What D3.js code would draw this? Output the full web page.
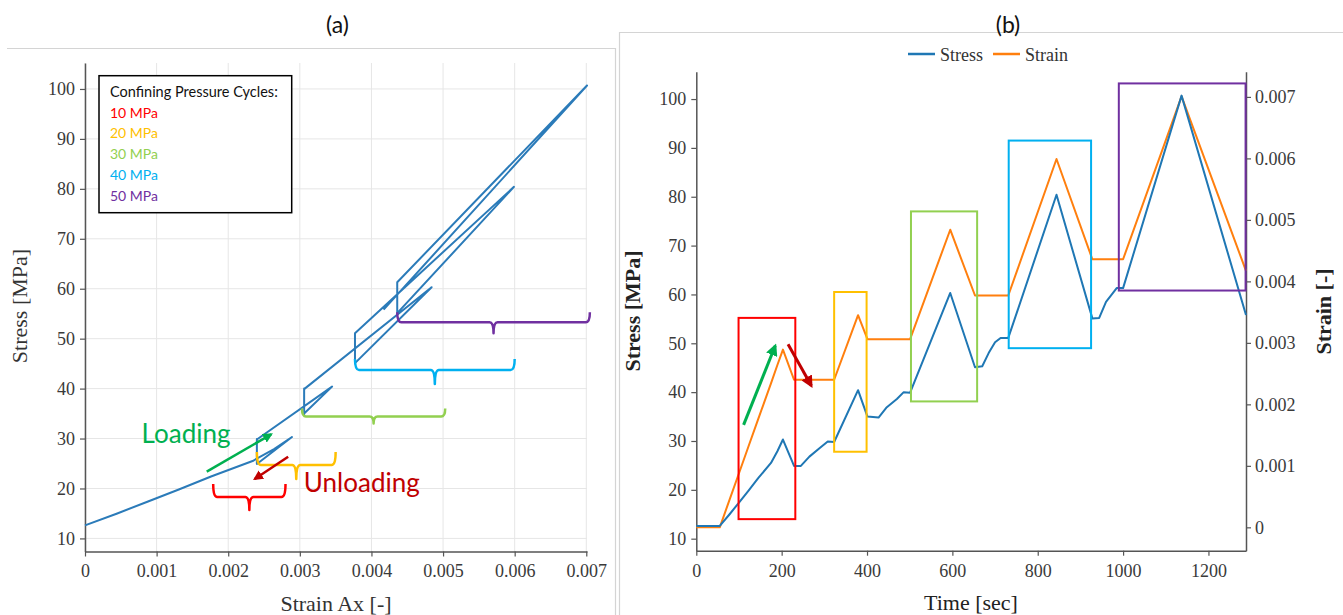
<!DOCTYPE html>
<html>
<head>
<meta charset="utf-8">
<script src="https://cdn.jsdelivr.net/npm/d3@7"></script>
<style>
  body { margin: 0; background: #fff; }
  svg { display: block; }
  .tick text { font-family: "Liberation Serif", "Times New Roman", serif; }
</style>
</head>
<body>
<svg id="fig" width="1343" height="615"></svg>
<script>
// Triaxial test record, one sample per time stamp
const timeSec   = [0, 55, 78, 100, 122, 145, 175, 190, 203, 229, 245, 265, 290, 308, 323, 379, 401, 427, 445, 470, 486, 501, 595, 653, 670, 685, 700, 713, 731, 844, 928, 944, 960, 985, 1000, 1137, 1288];
const stressMPa = [12.6, 12.6, 15.0, 17.4, 19.8, 22.4, 25.5, 27.9, 30.3, 24.9, 24.9, 26.8, 28.6, 29.9, 29.8, 40.4, 35.0, 34.8, 36.8, 38.6, 40.0, 39.9, 60.3, 45.1, 45.3, 48.0, 50.2, 51.1, 51.1, 80.4, 55.1, 55.2, 58.5, 61.3, 61.3, 100.7, 55.8];
const strainAx  = [0, 0, 0.00045, 0.00088, 0.00131, 0.00176, 0.00234, 0.00264, 0.00289, 0.0024, 0.0024, 0.0024, 0.0024, 0.0024, 0.0024, 0.00345, 0.00306, 0.00306, 0.00306, 0.00306, 0.00306, 0.00306, 0.00484, 0.00377, 0.00377, 0.00377, 0.00377, 0.00377, 0.00377, 0.00599, 0.00436, 0.00436, 0.00436, 0.00436, 0.00436, 0.00701, 0.00417];

// Confining pressure cycles
const cycleLabels = ["10 MPa", "20 MPa", "30 MPa", "40 MPa", "50 MPa"];
const cycleColors = ["#ff0000", "#ffc000", "#92d050", "#00b0f0", "#7030a0"];

// Strain range and stress level spanned by each cycle's brace (panel a)
const braceStrainFrom = [0.00179, 0.0024, 0.00303, 0.00377, 0.00436];
const braceStrainTo   = [0.0028, 0.0035, 0.00503, 0.0060, 0.00705];
const braceStress     = [18.3, 24.7, 34.4, 43.7, 53.3];

// Time window and stress window of each cycle (panel b)
const boxTimeFrom   = [99, 323, 503, 732, 990];
const boxTimeTo     = [232, 399, 658, 925, 1287];
const boxStressLow  = [14.0, 27.8, 38.1, 49.0, 60.8];
const boxStressHigh = [55.2, 60.5, 77.0, 91.5, 103.2];

// Tick values
const strainTicks = [0, 0.001, 0.002, 0.003, 0.004, 0.005, 0.006, 0.007];
const stressTicks = [10, 20, 30, 40, 50, 60, 70, 80, 90, 100];
const timeTicks   = [0, 200, 400, 600, 800, 1000, 1200];

const svg = d3.select("#fig");
const serif = "Liberation Serif, Times New Roman, serif";
const sans = "Lato, Open Sans, sans-serif";
const blue = "#1f77b4", orange = "#ff7f0e";
const loadGreen = "#00b050", unloadRed = "#c00000";
const fmtStrain = d => d === 0 ? "0" : d3.format(".3f")(d);

const rows = timeSec.map((t, i) => ({ t, s: stressMPa[i], e: strainAx[i] }));

// arrow heads
const defs = svg.append("defs");
[["headGreen", loadGreen], ["headRed", unloadRed]].forEach(([id, c]) => {
  defs.append("marker").attr("id", id)
    .attr("viewBox", "0 0 10 10").attr("refX", 8).attr("refY", 5)
    .attr("markerWidth", 4).attr("markerHeight", 4)
    .attr("markerUnits", "strokeWidth").attr("orient", "auto")
    .append("path").attr("d", "M0,0 L10,5 L0,10 z").attr("fill", c);
});

// panel frames
svg.append("path").attr("d", "M7,48.5 H615.5 V615").attr("fill", "none").attr("stroke", "#d4d4d4").attr("stroke-width", 1.2);
svg.append("path").attr("d", "M619.5,615 V32.5 H1343").attr("fill", "none").attr("stroke", "#d4d4d4").attr("stroke-width", 1.2);

// panel titles
svg.append("text").attr("x", 337.5).attr("y", 33).attr("text-anchor", "middle")
  .attr("font-family", sans).attr("font-size", 23).attr("fill", "#111").text("(a)");
svg.append("text").attr("x", 1008).attr("y", 33).attr("text-anchor", "middle")
  .attr("font-family", sans).attr("font-size", 23).attr("fill", "#111").text("(b)");

function styleAxis(g, size) {
  g.attr("font-family", serif).attr("font-size", size);
  g.selectAll(".domain").attr("stroke", "#555").attr("stroke-width", 1.5);
  g.selectAll(".tick line").attr("stroke", "#555").attr("stroke-width", 1.2);
  g.selectAll(".tick text").attr("fill", "#3a3a3a")
    .style("font-family", serif).style("font-size", size + "px");
}

// ---------- Panel (a): stress against axial strain ----------
const xa = d3.scaleLinear().domain([0, 0.00701]).range([85, 587]);
const ya = d3.scaleLinear().domain([7.38, 105.2]).range([551.5, 63]);

const pa = svg.append("g");
pa.append("g").selectAll("line").data(strainTicks).join("line")
  .attr("x1", d => xa(d)).attr("x2", d => xa(d))
  .attr("y1", ya.range()[1]).attr("y2", ya.range()[0])
  .attr("stroke", "#e6e6e6").attr("stroke-width", 1);
pa.append("g").selectAll("line").data(stressTicks).join("line")
  .attr("x1", xa.range()[0]).attr("x2", xa.range()[1])
  .attr("y1", d => ya(d)).attr("y2", d => ya(d))
  .attr("stroke", "#e6e6e6").attr("stroke-width", 1);

const axA = pa.append("g").attr("transform", `translate(0,${ya.range()[0]})`)
  .call(d3.axisBottom(xa).tickValues(strainTicks).tickFormat(fmtStrain).tickSize(5).tickSizeOuter(0).tickPadding(8));
styleAxis(axA, 18);
const ayA = pa.append("g").attr("transform", `translate(${xa.range()[0]},0)`)
  .call(d3.axisLeft(ya).tickValues(stressTicks).tickFormat(d3.format("d")).tickSize(5).tickSizeOuter(0).tickPadding(5));
styleAxis(ayA, 18);

pa.append("text").attr("x", 336).attr("y", 611).attr("text-anchor", "middle")
  .attr("font-family", serif).attr("font-size", 22).attr("fill", "#333").text("Strain Ax [-]");
pa.append("text").attr("transform", "translate(27,306) rotate(-90)").attr("text-anchor", "middle")
  .attr("font-family", serif).attr("font-size", 22).attr("fill", "#333").text("Stress [MPa]");

pa.append("path").datum(rows)
  .attr("d", d3.line().x(d => xa(d.e)).y(d => ya(d.s)))
  .attr("fill", "none").attr("stroke", "#2b7bb9").attr("stroke-width", 2)
  .attr("stroke-linejoin", "round");

// cycle braces: end-hook height and centre-tip depth in pixels
const braceHookPx = [13, 13, 8, 11, 10];
const braceTipPx = [13, 14, 7, 14, 11];
cycleColors.forEach((c, i) => {
  const x0 = xa(braceStrainFrom[i]), x1 = xa(braceStrainTo[i]), y = ya(braceStress[i]);
  const xm = (x0 + x1) / 2, hook = braceHookPx[i], tip = braceTipPx[i];
  const p = d3.path();
  p.moveTo(x0, y - hook);
  p.quadraticCurveTo(x0, y, x0 + 4, y);
  p.lineTo(xm - 4, y);
  p.quadraticCurveTo(xm, y, xm, y + tip);
  p.quadraticCurveTo(xm, y, xm + 4, y);
  p.lineTo(x1 - 4, y);
  p.quadraticCurveTo(x1, y, x1, y - hook);
  pa.append("path").attr("d", p.toString()).attr("fill", "none")
    .attr("stroke", c).attr("stroke-width", 2.5).attr("stroke-linejoin", "round");
});

// loading / unloading annotations
pa.append("line")
  .attr("x1", xa(0.0017)).attr("y1", ya(23.36)).attr("x2", xa(0.0026)).attr("y2", ya(30.85))
  .attr("stroke", loadGreen).attr("stroke-width", 2.5).attr("marker-end", "url(#headGreen)");
pa.append("line")
  .attr("x1", xa(0.002837)).attr("y1", ya(26.36)).attr("x2", xa(0.00237)).attr("y2", ya(21.9))
  .attr("stroke", unloadRed).attr("stroke-width", 2.5).attr("marker-end", "url(#headRed)");
pa.append("text").attr("x", xa(0.00079)).attr("y", ya(29.1))
  .attr("font-family", sans).attr("font-size", 26).attr("fill", loadGreen).text("Loading");
pa.append("text").attr("x", xa(0.003056)).attr("y", ya(19.3))
  .attr("font-family", sans).attr("font-size", 26).attr("fill", unloadRed).text("Unloading");

// legend box
const lg = pa.append("g");
lg.append("rect").attr("x", 99).attr("y", 75.7).attr("width", 192.7).attr("height", 137)
  .attr("fill", "#fff").attr("stroke", "#000").attr("stroke-width", 1.5);
lg.append("text").attr("x", 110).attr("y", 97.3).attr("font-family", sans).attr("font-size", 14.5)
  .attr("fill", "#111").text("Confining Pressure Cycles:");
lg.selectAll("text.cyc").data(cycleLabels).join("text").attr("class", "cyc")
  .attr("x", 110).attr("y", (d, i) => 117.5 + i * 20.8)
  .attr("font-family", sans).attr("font-size", 14)
  .attr("fill", (d, i) => cycleColors[i]).text(d => d);

// ---------- Panel (b): stress and strain against time ----------
const xb = d3.scaleLinear().domain([0, 1288]).range([696.3, 1246]);
const yb = d3.scaleLinear().domain([7.54, 105.6]).range([550.7, 71.7]);
const yb2 = d3.scaleLinear().domain([-0.00038, 0.00741]).range([550.7, 71.7]);

const pb = svg.append("g");
const axB = pb.append("g").attr("transform", `translate(0,${yb.range()[0]})`)
  .call(d3.axisBottom(xb).tickValues(timeTicks).tickFormat(d3.format("d")).tickSize(5).tickSizeOuter(0).tickPadding(9));
styleAxis(axB, 18);
const ayB = pb.append("g").attr("transform", `translate(${xb.range()[0]},0)`)
  .call(d3.axisLeft(yb).tickValues(stressTicks).tickFormat(d3.format("d")).tickSize(5).tickSizeOuter(0).tickPadding(5));
styleAxis(ayB, 18);
const ayB2 = pb.append("g").attr("transform", `translate(${xb.range()[1]},0)`)
  .call(d3.axisRight(yb2).tickValues(strainTicks).tickFormat(fmtStrain).tickSize(5).tickSizeOuter(0).tickPadding(4));
styleAxis(ayB2, 18);

pb.append("text").attr("x", 971).attr("y", 610).attr("text-anchor", "middle")
  .attr("font-family", serif).attr("font-size", 22).attr("fill", "#222").text("Time [sec]");
pb.append("text").attr("transform", "translate(640,311) rotate(-90)").attr("text-anchor", "middle")
  .attr("font-family", serif).attr("font-size", 22).attr("font-weight", "bold").attr("fill", "#222").text("Stress [MPa]");
pb.append("text").attr("transform", "translate(1331,311.5) rotate(-90)").attr("text-anchor", "middle")
  .attr("font-family", serif).attr("font-size", 22).attr("font-weight", "bold").attr("fill", "#222").text("Strain [-]");

// legend
const lb = pb.append("g").attr("font-family", serif).attr("font-size", 18).attr("fill", "#333");
lb.append("line").attr("x1", 908).attr("x2", 935).attr("y1", 54).attr("y2", 54).attr("stroke", blue).attr("stroke-width", 2.5);
lb.append("text").attr("x", 940).attr("y", 60.5).text("Stress");
lb.append("line").attr("x1", 993).attr("x2", 1020).attr("y1", 54).attr("y2", 54).attr("stroke", orange).attr("stroke-width", 2.5);
lb.append("text").attr("x", 1025).attr("y", 60.5).text("Strain");

// series
pb.append("path").datum(rows)
  .attr("d", d3.line().x(d => xb(d.t)).y(d => yb2(d.e)))
  .attr("fill", "none").attr("stroke", orange).attr("stroke-width", 2).attr("stroke-linejoin", "round");
pb.append("path").datum(rows)
  .attr("d", d3.line().x(d => xb(d.t)).y(d => yb(d.s)))
  .attr("fill", "none").attr("stroke", blue).attr("stroke-width", 2).attr("stroke-linejoin", "round");

// cycle windows
cycleColors.forEach((c, i) => {
  pb.append("rect")
    .attr("x", xb(boxTimeFrom[i])).attr("y", yb(boxStressHigh[i]))
    .attr("width", xb(boxTimeTo[i]) - xb(boxTimeFrom[i]))
    .attr("height", yb(boxStressLow[i]) - yb(boxStressHigh[i]))
    .attr("fill", "none").attr("stroke", c).attr("stroke-width", 2);
});

// loading / unloading arrows
pb.append("line")
  .attr("x1", xb(110.8)).attr("y1", yb(33.3)).attr("x2", xb(185)).attr("y2", yb(49.5))
  .attr("stroke", loadGreen).attr("stroke-width", 3).attr("marker-end", "url(#headGreen)");
pb.append("line")
  .attr("x1", xb(215)).attr("y1", yb(49.8)).attr("x2", xb(269.6)).attr("y2", yb(41.3))
  .attr("stroke", unloadRed).attr("stroke-width", 3).attr("marker-end", "url(#headRed)");
</script>
</body>
</html>
